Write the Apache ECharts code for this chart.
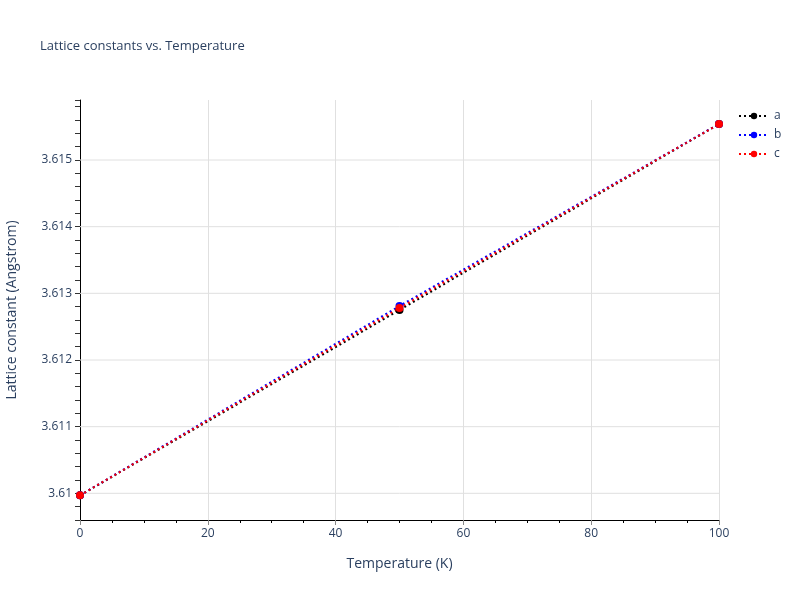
<!DOCTYPE html>
<html>
<head>
<meta charset="utf-8">
<script src="https://cdn.jsdelivr.net/npm/echarts@6/dist/echarts.min.js"></script>
<style>html,body{margin:0;padding:0;background:#fff}#c{width:800px;height:600px}</style>
</head>
<body>
<div id="c"></div>
<script>
const temperatures = [0, 50, 100];
const seriesNames = ['a', 'b', 'c'];
const aValues = [3.60997, 3.61275, 3.61554];
const bValues = [3.60997, 3.61281, 3.61554];
const cValues = [3.60997, 3.61278, 3.61554];
const colors = ['#000000', '#0000ff', '#ff0000'];
const yTickValues = [3.610, 3.611, 3.612, 3.613, 3.614, 3.615];
const xRange = [0, 100];

const allValues = [aValues, bValues, cValues];
const chart = echarts.init(document.getElementById('c'));
const font = '"Open Sans", "Noto Sans", sans-serif';
const txt = '#2a3f5f';
const isMajorY = v => Math.abs(v * 1000 - Math.round(v * 1000)) < 1e-6;

const series = seriesNames.map((n, i) => ({
  name: n,
  type: 'line',
  z: 3,
  data: temperatures.map((t, j) => [t, allValues[i][j]]),
  symbol: 'circle', symbolSize: 8,
  itemStyle: { color: colors[i] },
  lineStyle: { color: colors[i], width: 2, type: [2, 3] },
  clip: false
}));
yTickValues.forEach((v, k) => {
  series.unshift({
    name: 'grid' + k,
    type: 'line',
    z: 1,
    silent: true,
    data: xRange.map(x => [x, v]),
    showSymbol: false,
    symbol: 'none',
    lineStyle: { color: '#e0e0e0', width: 1, type: 'solid' },
    emphasis: { disabled: true },
    tooltip: { show: false }
  });
});

chart.setOption({
  backgroundColor: '#fff',
  animation: false,
  title: {
    text: 'Lattice constants vs. Temperature',
    left: 35, top: 35,
    textStyle: { fontSize: 13, fontWeight: 'normal', color: txt, fontFamily: font }
  },
  legend: {
    orient: 'vertical', left: 733, top: 105, itemGap: 7,
    itemWidth: 30, itemHeight: 8,
    textStyle: { fontSize: 12, color: txt, fontFamily: font },
    data: seriesNames
  },
  grid: { left: 80, right: 81, top: 100, bottom: 80, containLabel: false, outerBoundsMode: 'none' },
  xAxis: {
    type: 'value', min: 0, max: 100, interval: 20,
    name: 'Temperature (K)', nameLocation: 'middle', nameGap: 37,
    nameTextStyle: { fontSize: 14, color: txt, fontFamily: font },
    axisLine: { show: true, onZero: false, lineStyle: { color: '#000', width: 1 } },
    axisTick: { show: true, length: 5, lineStyle: { color: '#888' } },
    minorTick: { show: true, splitNumber: 4, length: 3, lineStyle: { color: '#000' } },
    axisLabel: { fontSize: 12, color: txt, fontFamily: font, margin: 8 },
    splitLine: { show: true, lineStyle: { color: '#e0e0e0', width: 1 } }
  },
  yAxis: {
    type: 'value', min: 3.6096, max: 3.6159, interval: 0.0002,
    name: 'Lattice constant (Angstrom)', nameLocation: 'middle', nameGap: 61,
    nameTextStyle: { fontSize: 14, color: txt, fontFamily: font },
    axisLine: { show: true, onZero: false, lineStyle: { color: '#000', width: 1 } },
    axisTick: { show: true, length: 5, lineStyle: { color: '#333' } },
    axisLabel: {
      fontSize: 12, color: txt, fontFamily: font, margin: 8,
      formatter: v => isMajorY(v) ? String(+v.toFixed(3)) : ''
    },
    splitLine: { show: false }
  },
  series: series
});
</script>
</body>
</html>
